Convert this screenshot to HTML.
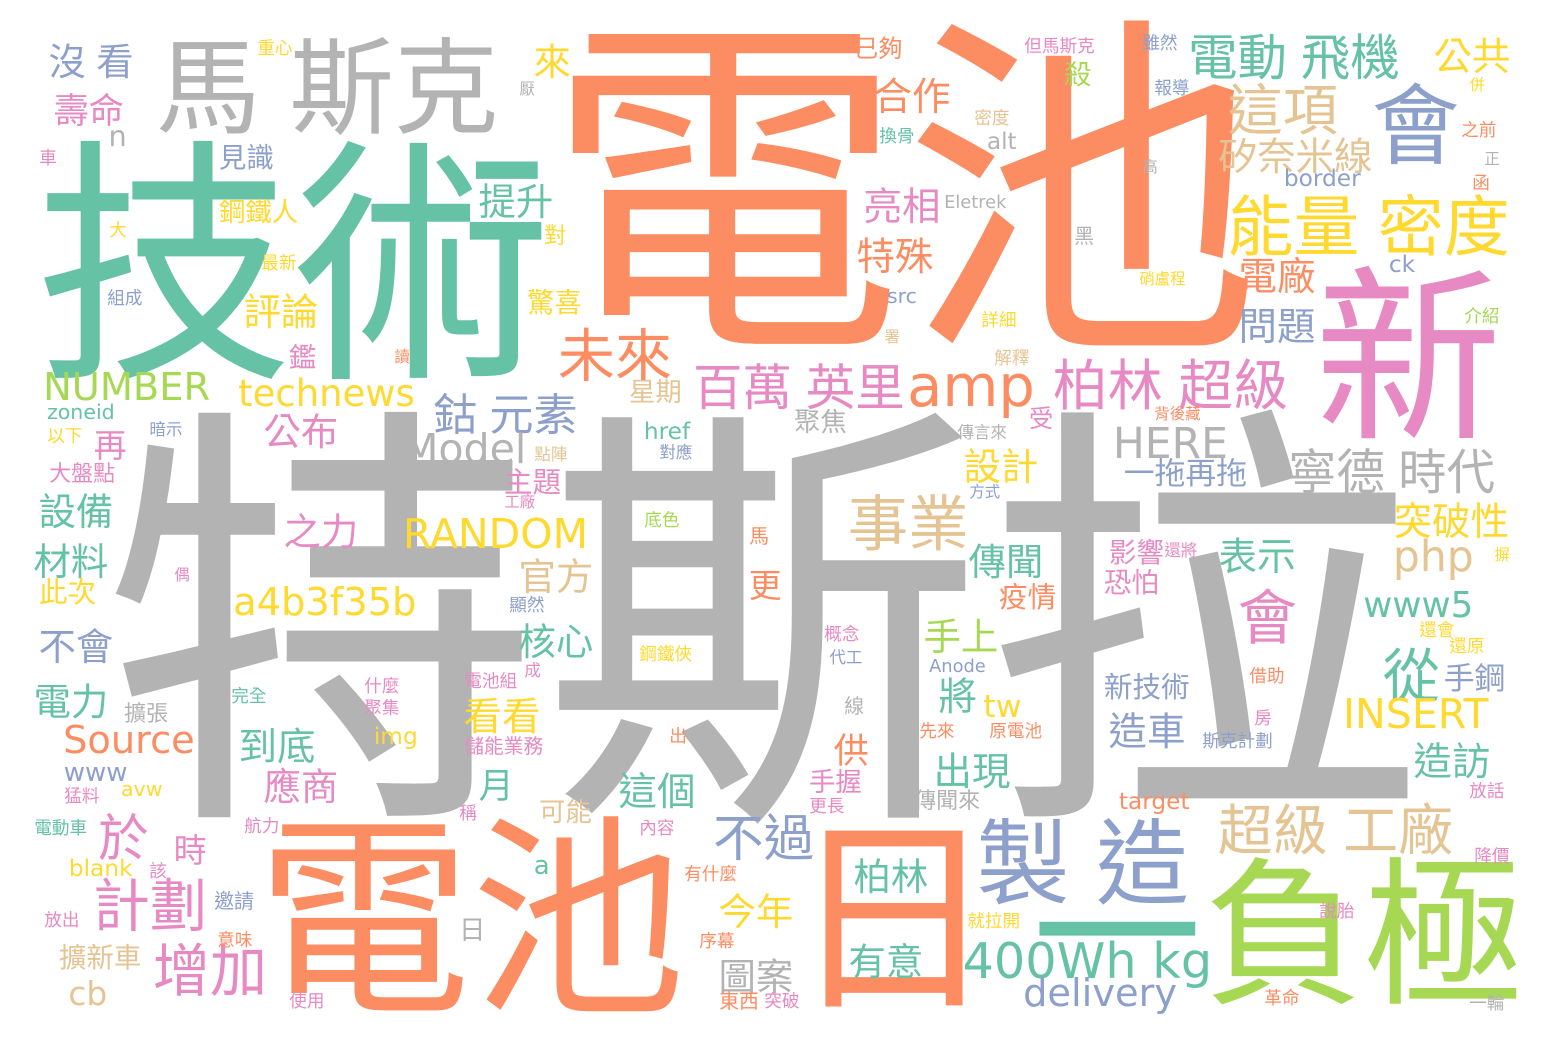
<!DOCTYPE html>
<html><head><meta charset="utf-8">
<style>
html,body{margin:0;padding:0;background:#fff;}
#cloud{position:relative;width:1548px;height:1052px;overflow:hidden;background:#fff;}
.w{position:absolute;white-space:pre;line-height:1;font-family:"Liberation Sans","Noto Sans CJK TC",sans-serif;}
</style></head>
<body>
<div id="cloud"></div>
<script>
const C={t:'#66c2a5',o:'#fc8d62',b:'#8da0cb',p:'#e78ac3',g:'#a6d854',y:'#ffd92f',n:'#e5c494',r:'#b3b3b3'};
// words: text, ink-left x, ink-top y, ink height, color key
const words=[
['特斯拉',120,420,400,'r'],
['電池',560,25,325,'o'],
['技術',45,145,235,'t'],
['電池',265,820,195,'o'],
['馬 斯克',160,40,95,'r'],
['新',1322,270,170,'p'],
['會',1375,85,80,'b'],
['負極',1210,860,145,'g'],
['日',797,820,190,'o'],
['製 造',980,820,85,'b'],
['電動 飛機',1190,35,45,'t'],
['這項',1230,85,50,'n'],
['矽奈米線',1220,140,35,'n'],
['能量 密度',1230,195,60,'y'],
['電廠',1240,260,35,'o'],
['問題',1240,310,35,'b'],
['柏林 超級',1055,360,50,'p'],
['百萬 英里',695,365,45,'p'],
['未來',560,330,52,'o'],
['亮相',865,190,35,'p'],
['特殊',858,240,35,'o'],
['合作',875,80,35,'o'],
['已夠',855,38,22,'o'],
['公共',1435,40,35,'y'],
['殺',1065,62,25,'g'],
['鈷 元素',435,395,40,'b'],
['寧德 時代',1290,450,44,'r'],
['一拖再拖',1125,460,28,'b'],
['設計',965,450,34,'y'],
['事業',850,495,55,'n'],
['突破性',1395,505,35,'y'],
['表示',1220,540,35,'t'],
['會',1240,590,54,'p'],
['從',1385,650,52,'t'],
['手鋼',1445,665,28,'b'],
['造訪',1415,745,35,'t'],
['新技術',1105,675,26,'b'],
['造車',1110,715,35,'b'],
['傳聞',970,545,34,'t'],
['影響',1110,540,25,'p'],
['恐怕',1105,570,25,'p'],
['疫情',1000,585,26,'o'],
['手上',925,620,34,'g'],
['將',940,680,35,'t'],
['出現',935,755,35,'t'],
['超級 工廠',1220,805,50,'n'],
['不過',715,815,46,'b'],
['這個',620,775,35,'t'],
['柏林',855,860,34,'t'],
['有意',850,945,34,'t'],
['今年',720,895,34,'y'],
['圖案',720,960,34,'r'],
['看看',465,700,35,'y'],
['到底',240,730,35,'t'],
['應商',265,770,34,'p'],
['月',480,770,32,'t'],
['供',835,735,32,'o'],
['更',750,570,30,'o'],
['核心',520,625,34,'t'],
['官方',520,560,34,'n'],
['之力',285,515,34,'p'],
['主題',505,470,26,'p'],
['公布',265,415,34,'p'],
['評論',245,295,34,'y'],
['鋼鐵人',220,200,24,'y'],
['見識',220,145,25,'b'],
['提升',480,185,34,'t'],
['來',535,45,34,'y'],
['沒 看',50,45,34,'b'],
['壽命',55,95,32,'p'],
['設備',40,495,34,'t'],
['再',95,430,30,'p'],
['材料',35,545,34,'t'],
['此次',40,580,26,'y'],
['不會',40,630,34,'b'],
['電力',35,685,34,'t'],
['於',100,815,46,'p'],
['時',175,835,30,'p'],
['計劃',95,880,52,'p'],
['增加',155,945,52,'p'],
['擴新車',60,945,25,'n'],
['驚喜',528,290,25,'y'],
['對',545,225,20,'y'],
['星期',630,380,24,'n'],
['聚焦',795,410,24,'r'],
['受',1030,408,22,'p'],
['可能',540,800,24,'n'],
['手握',810,770,24,'p'],
['傳聞來',915,790,20,'r'],
['儲能業務',465,738,18,'p'],
['鑑',290,345,25,'p'],
['大盤點',50,463,20,'p'],
['日',460,918,24,'r'],
['重心',258,40,16,'y'],['但馬斯克',1025,38,16,'p'],['雖然',1143,35,16,'b'],['厭',520,82,14,'r'],
['報導',1155,80,16,'b'],['併',1470,78,14,'y'],['密度',975,110,16,'n'],['換骨',880,128,16,'t'],
['之前',1462,122,16,'o'],['車',40,150,16,'p'],['高',1143,160,14,'r'],['正',1485,152,14,'r'],
['函',1473,175,16,'o'],['大',110,222,16,'y'],['最新',262,255,16,'y'],['黑',1075,228,18,'r'],
['硝盧程',1140,272,14,'y'],['組成',108,290,16,'b'],['詳細',982,312,16,'y'],['介紹',1465,308,16,'g'],
['讀',395,350,14,'o'],['署',885,330,14,'n'],['解釋',995,350,16,'n'],['以下',48,428,16,'y'],
['暗示',150,422,15,'b'],['對應',660,445,15,'b'],['傳言來',958,425,15,'r'],['背後藏',1155,407,14,'o'],
['點陣',535,447,15,'n'],['工廠',505,495,14,'p'],['方式',970,485,14,'b'],['底色',645,512,16,'g'],
['馬',750,528,18,'o'],['偶',175,568,14,'p'],['顯然',510,597,16,'b'],['摒',1495,548,14,'y'],
['還將',1165,543,15,'p'],['還會',1420,622,16,'y'],['還原',1450,638,16,'y'],['概念',825,626,16,'p'],
['代工',830,650,15,'b'],['鋼鐵俠',640,646,16,'y'],['電池組',465,673,16,'p'],['成',525,663,15,'p'],
['什麼',365,678,16,'p'],['聚集',365,700,16,'p'],['完全',232,688,16,'t'],['擴張',125,703,20,'r'],
['線',845,698,18,'r'],['借助',1250,668,16,'o'],['房',1255,710,16,'p'],['原電池',990,723,16,'o'],
['先來',920,723,16,'o'],['出',670,728,16,'o'],['斯克計劃',1203,733,16,'b'],['猛料',65,788,16,'p'],
['航力',245,818,16,'p'],['電動車',35,820,16,'t'],['更長',810,798,16,'p'],['內容',640,820,16,'p'],
['稱',460,805,16,'p'],['放話',1470,783,16,'p'],['有什麼',685,866,16,'o'],['該',150,863,16,'p'],
['邀請',215,893,18,'b'],['意味',218,932,16,'o'],['放出',45,912,16,'p'],['序幕',700,933,16,'o'],
['就拉開',968,913,16,'y'],['說胎',1320,903,16,'p'],['降價',1475,848,16,'p'],['使用',290,993,16,'p'],
['東西',720,993,18,'o'],['突破',765,993,16,'p'],['革命',1265,990,16,'o'],['一輪',1470,995,16,'r']
];
// latin words: text, ink-left x, cap-top y, cap height, color
const latin=[
['amp',910,370,42,'o'],['HERE',1115,432,31,'r'],['php',1395,545,31,'n'],['www5',1365,595,26,'t'],
['INSERT',1345,702,30,'y'],['tw',985,698,23,'y'],['400Wh kg',965,947,36,'t'],['delivery',1025,983,28,'b'],
['a4b3f35b',235,592,28,'y'],['RANDOM',405,522,30,'y'],['Model',405,437,30,'r'],['technews',240,382,27,'y'],
['NUMBER',45,377,28,'g'],['Source',65,730,28,'o'],['www',65,765,19,'b'],['cb',70,985,24,'n'],
['blank',70,862,17,'y'],['img',375,730,17,'y'],['a',535,858,19,'t'],['n',110,128,21,'r'],
['alt',988,135,17,'r'],['border',1285,172,17,'b'],['Eletrek',945,198,13,'r'],['ck',1390,258,17,'b'],
['src',888,290,15,'b'],['zoneid',48,406,15,'t'],['href',645,425,17,'t'],['Anode',930,662,13,'b'],
['avw',122,783,15,'y'],['target',1120,795,17,'o']
];
const cloud=document.getElementById('cloud');
words.forEach(w=>{
  const el=document.createElement('div');
  el.className='w';
  
  
  const s=w[3]*1.1;
  el.style.fontSize=s+'px';
  el.style.left=(w[1]-0.04*s)+'px';
  el.style.top=(w[2]-0.02*s)+'px';
  el.style.color=C[w[4]];
  el.textContent=w[0];
  cloud.appendChild(el);
});
const bar=document.createElement('div');
bar.className='w';


bar.style.cssText='left:1032px;top:852px;font-size:170px;color:#66c2a5;';
bar.textContent='一';
cloud.appendChild(bar);
latin.forEach(w=>{
  const el=document.createElement('div');
  el.className='w';
  
  
  const s=w[3]/0.73;
  el.style.fontFamily='"DejaVu Sans","Liberation Sans",sans-serif';
  el.style.fontSize=s+'px';
  el.style.left=(w[1]-0.05*s)+'px';
  el.style.top=(w[2]-0.2*s)+'px';
  el.style.color=C[w[4]];
  el.textContent=w[0];
  cloud.appendChild(el);
});
</script>
</body></html>
